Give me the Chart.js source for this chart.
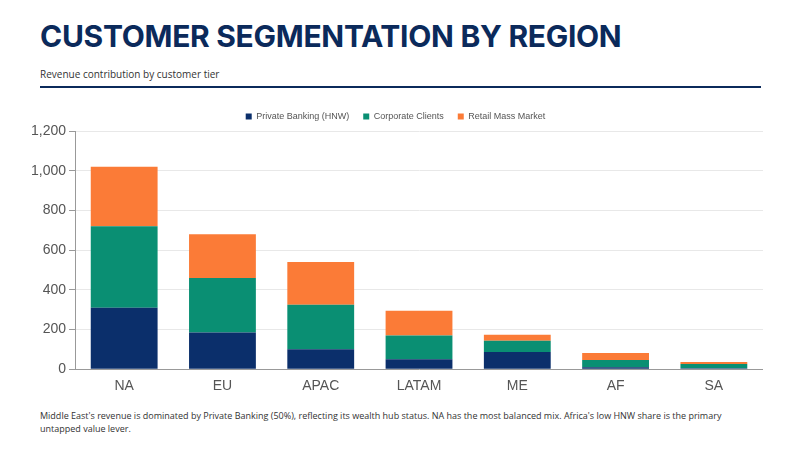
<!DOCTYPE html>
<html><head><meta charset="utf-8">
<script src="https://cdn.jsdelivr.net/npm/chart.js@4"></script>
<style>
body{margin:0;width:800px;height:450px;background:#fff;font-family:"Open Sans",sans-serif;overflow:hidden;position:relative}
h1{position:absolute;left:40px;top:18px;margin:0;font-family:Inter,sans-serif;font-weight:700;font-size:30px;color:#0b2a5b;letter-spacing:-0.3px}
.sub{position:absolute;left:40px;top:67px;font-size:10px;color:#333}
.rule{position:absolute;left:40px;top:86px;width:721px;height:2px;background:#0b2a5b}
#wrap{position:absolute;left:28px;top:98px;width:735px;height:300px}
.note{position:absolute;left:40px;top:409px;width:720px;font-size:9px;color:#333;line-height:13px}
</style></head><body>
<h1>CUSTOMER SEGMENTATION BY REGION</h1>
<div class="sub">Revenue contribution by customer tier</div>
<div class="rule"></div>
<div id="wrap"><canvas id="c"></canvas></div>
<div class="note">Middle East's revenue is dominated by Private Banking (50%), reflecting its wealth hub status. NA has the most balanced mix. Africa's low HNW share is the primary untapped value lever.</div>
<script>
const regions = ["NA","EU","APAC","LATAM","ME","AF","SA"];
const privateBanking = [310,185,100,50,87,10,5];
const corporate = [410,275,225,120,56,36,21];
const retail = [300,220,215,125,30,36,10];

new Chart(document.getElementById("c"), {
  type: "bar",
  data: {
    labels: regions,
    datasets: [
      {label:"Private Banking (HNW)", data: privateBanking, backgroundColor:"#0b2f6b"},
      {label:"Corporate Clients", data: corporate, backgroundColor:"#0a8f73"},
      {label:"Retail Mass Market", data: retail, backgroundColor:"#fb7b37"}
    ]
  },
  options: {
    responsive:true, maintainAspectRatio:false, animation:false,
    datasets:{bar:{categoryPercentage:0.68, barPercentage:1}},
    plugins:{
      legend:{labels:{boxWidth:6,boxHeight:6,font:{size:9},color:"#555",padding:14}}
    },
    scales:{
      x:{stacked:true, grid:{display:false, drawTicks:true, tickLength:6}, border:{color:"#999"},
         ticks:{font:{size:14},color:"#555"}},
      y:{stacked:true, min:0, max:1200, ticks:{stepSize:200, font:{size:14}, color:"#555"},
         grid:{color:"#e8e8e8", tickLength:6, tickColor:"#999"}, border:{color:"#999"}}
    }
  }
});
</script>
</body></html>
